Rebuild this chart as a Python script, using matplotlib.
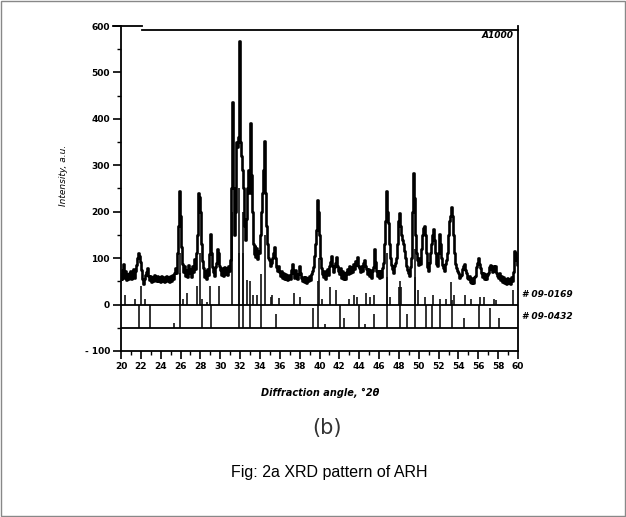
import numpy as np
import matplotlib.pyplot as plt
from matplotlib.patches import Rectangle

# XRD trace, 20.0 .. 60.0 deg in 0.1 deg steps (one row per degree)
intensity = [
    66, 54, 74, 88, 58, 72, 52, 66, 54, 68,
    72, 56, 70, 76, 58, 72, 86, 100, 110, 104,
    92, 74, 56, 44, 54, 64, 70, 78, 62, 52,
    62, 48, 60, 50, 64, 52, 50, 62, 50, 60,
    48, 62, 50, 60, 48, 58, 62, 50, 60, 48,
    62, 50, 64, 56, 68, 78, 68, 110, 170, 245,
    190, 125, 88, 70, 82, 62, 74, 60, 86, 68,
    76, 60, 82, 70, 98, 76, 110, 150, 240, 232,
    200, 130, 94, 78, 60, 72, 56, 76, 64, 108,
    153, 112, 80, 70, 62, 80, 90, 120, 112, 82,
    74, 64, 78, 62, 80, 66, 78, 64, 82, 72,
    96, 250, 437, 250, 150, 200, 350, 340, 362, 568,
    350, 320, 290, 250, 170, 140, 185, 250, 290, 240,
    391, 280, 200, 130, 108, 126, 102, 122, 98, 116,
    110, 150, 200, 240, 290, 353, 240, 170, 130, 100,
    95, 82, 90, 100, 110, 124, 100, 80, 72, 82,
    70, 62, 72, 58, 68, 54, 66, 56, 52, 64,
    62, 54, 74, 88, 68, 58, 74, 62, 56, 66,
    82, 68, 58, 50, 60, 48, 60, 46, 58, 50,
    62, 52, 66, 72, 80, 105, 130, 160, 225, 200,
    150, 100, 78, 66, 60, 72, 56, 68, 76, 64,
    82, 92, 105, 82, 70, 80, 90, 102, 84, 72,
    66, 78, 58, 72, 56, 68, 54, 70, 76, 66,
    82, 68, 80, 70, 88, 76, 94, 86, 102, 84,
    78, 70, 84, 72, 90, 95, 84, 76, 66, 76,
    62, 74, 58, 72, 80, 120, 92, 72, 62, 72,
    58, 72, 60, 78, 90, 130, 180, 245, 230, 200,
    175, 130, 100, 86, 76, 68, 82, 90, 100, 130,
    180, 197, 170, 150, 140, 130, 115, 100, 82, 74,
    68, 62, 80, 100, 200, 284, 230, 150, 110, 96,
    86, 100, 88, 120, 150, 165, 170, 150, 110, 80,
    72, 90, 110, 130, 150, 162, 140, 110, 88, 82,
    110, 153, 130, 100, 86, 78, 72, 88, 96, 110,
    150, 180, 190, 211, 190, 150, 110, 88, 78, 72,
    68, 58, 62, 64, 76, 82, 88, 74, 68, 58,
    54, 62, 48, 46, 58, 46, 60, 62, 80, 90,
    101, 88, 78, 68, 60, 68, 56, 66, 54, 64,
    68, 80, 86, 76, 70, 82, 72, 84, 68, 62,
    58, 68, 52, 62, 48, 60, 46, 56, 44, 58,
    46, 56, 44, 60, 50, 70, 115, 110, 96, 86,
    100,
]
two_theta = np.round(np.arange(len(intensity)) * 0.1 + 20, 1)

# reference card # 09-0169 (drawn from 0)
ref1_pos = [20.4, 21.4, 22.0, 22.4, 25.9, 26.2, 26.6, 27.7, 28.0, 28.2,
            28.7, 29.0, 29.9, 31.15, 31.9, 32.25, 32.65, 33.3, 33.7, 34.5,
            35.1, 35.25, 35.9, 37.45, 38.0, 39.9, 40.3, 41.1, 41.7, 43.0,
            43.5, 43.8, 44.7, 45.1, 45.5, 46.8, 47.1, 48.0, 48.2, 49.6,
            49.9, 50.6, 51.4, 52.1, 52.7, 53.2, 53.6, 54.65, 55.3, 56.15,
            56.6, 57.6, 57.8, 59.5]
ref1_int = [20, 13, 40, 13, 110, 13, 25, 40, 110, 13,
            6, 40, 40, 200, 250, 200, 52, 20, 20, 150,
            17, 20, 15, 25, 17, 100, 13, 37, 32, 13,
            20, 17, 24, 17, 20, 110, 17, 37, 37, 120,
            32, 17, 20, 13, 13, 49, 20, 20, 13, 17,
            17, 13, 9, 32]

# reference card # 09-0432 (drawn from -50)
ref2_pos = [21.8, 22.9, 25.3, 25.9, 28.2, 29.1, 31.85, 32.25, 33.0, 34.1,
            35.6, 39.3, 39.8, 40.6, 42.05, 42.5, 44.0, 44.6, 45.5, 46.8,
            48.1, 48.8, 49.6, 50.7, 51.35, 52.1, 53.3, 54.6, 56.05, 57.2,
            58.1]
ref2_int = [50, 50, 11, 117, 50, 50, 160, 160, 100, 115,
            30, 42, 100, 9, 50, 22, 50, 9, 29, 110,
            100, 29, 110, 50, 50, 50, 60, 22, 50, 42,
            22]

ref1_base = 0
ref2_base = -50

fig = plt.figure(figsize=(6.26, 5.17), dpi=100)
ax = fig.add_axes([0.1933, 0.3211, 0.6342, 0.6286])

ax.vlines(ref1_pos, ref1_base, np.array(ref1_int) + ref1_base, color="#111111", lw=1.2)
ax.vlines(ref2_pos, ref2_base, np.array(ref2_int) + ref2_base, color="#111111", lw=1.2)
ax.axhline(ref1_base, color="black", lw=1.3)
ax.axhline(ref2_base, color="black", lw=1.3)
ax.plot(two_theta, intensity, color="black", lw=1.9, drawstyle="steps-mid")

ax.set_xlim(20, 60)
ax.set_ylim(-100, 600)
ax.spines["top"].set_visible(False)
for s in ["left", "right", "bottom"]:
    ax.spines[s].set_linewidth(1.3)
# top frame: short stub at 600, then the rest a little lower
ax.plot([19.2, 22.1], [600, 600], color="black", lw=1.3, clip_on=False)
ax.plot([22.1, 60], [591, 591], color="black", lw=1.3, clip_on=False)

ax.set_xticks(np.arange(20, 61, 2))
ax.set_xticks(np.arange(20, 61, 1), minor=True)
ax.set_yticks(np.arange(-100, 601, 100))
ax.set_yticks(np.arange(-100, 601, 50), minor=True)
ax.set_yticklabels(["- 100", "0", "100", "200", "300", "400", "500", "600"])
ax.tick_params(which="major", direction="out", length=6, width=1.2,
               labelsize=6.5, pad=2)
ax.tick_params(which="minor", direction="out", length=3, width=1.0)
for lab in ax.get_xticklabels() + ax.get_yticklabels():
    lab.set_fontweight("bold")

ax.text(59.6, 580, "A1000", ha="right", va="center", fontsize=6.5,
        fontweight="bold", style="italic")
ax.text(60.4, 22, "# 09-0169", ha="left", va="center", fontsize=6.5,
        fontweight="bold", style="italic", clip_on=False)
ax.text(60.4, -25, "# 09-0432", ha="left", va="center", fontsize=6.5,
        fontweight="bold", style="italic", clip_on=False)

fig.text(63 / 626, 1 - 175 / 517, "Intensity, a.u.", rotation=90,
         ha="center", va="center", fontsize=6.5, style="italic")
fig.text(320 / 626, 1 - 393 / 517, "Diffraction angle, °2θ", ha="center",
         va="center", fontsize=7, fontweight="bold", style="italic")
fig.text(327 / 626, 1 - 428 / 517, "(b)", ha="center", va="center",
         fontsize=15, family="DejaVu Sans", color="#333333")
fig.text(329 / 626, 1 - 472 / 517, "Fig: 2a XRD pattern of ARH", ha="center",
         va="center", fontsize=11.5, family="Liberation Sans")

fig.patches.append(Rectangle((0.001, 0.001), 0.997, 0.997, transform=fig.transFigure,
                             fill=False, edgecolor="#888888", lw=1.0))

fig.savefig("out.png", dpi=100)
